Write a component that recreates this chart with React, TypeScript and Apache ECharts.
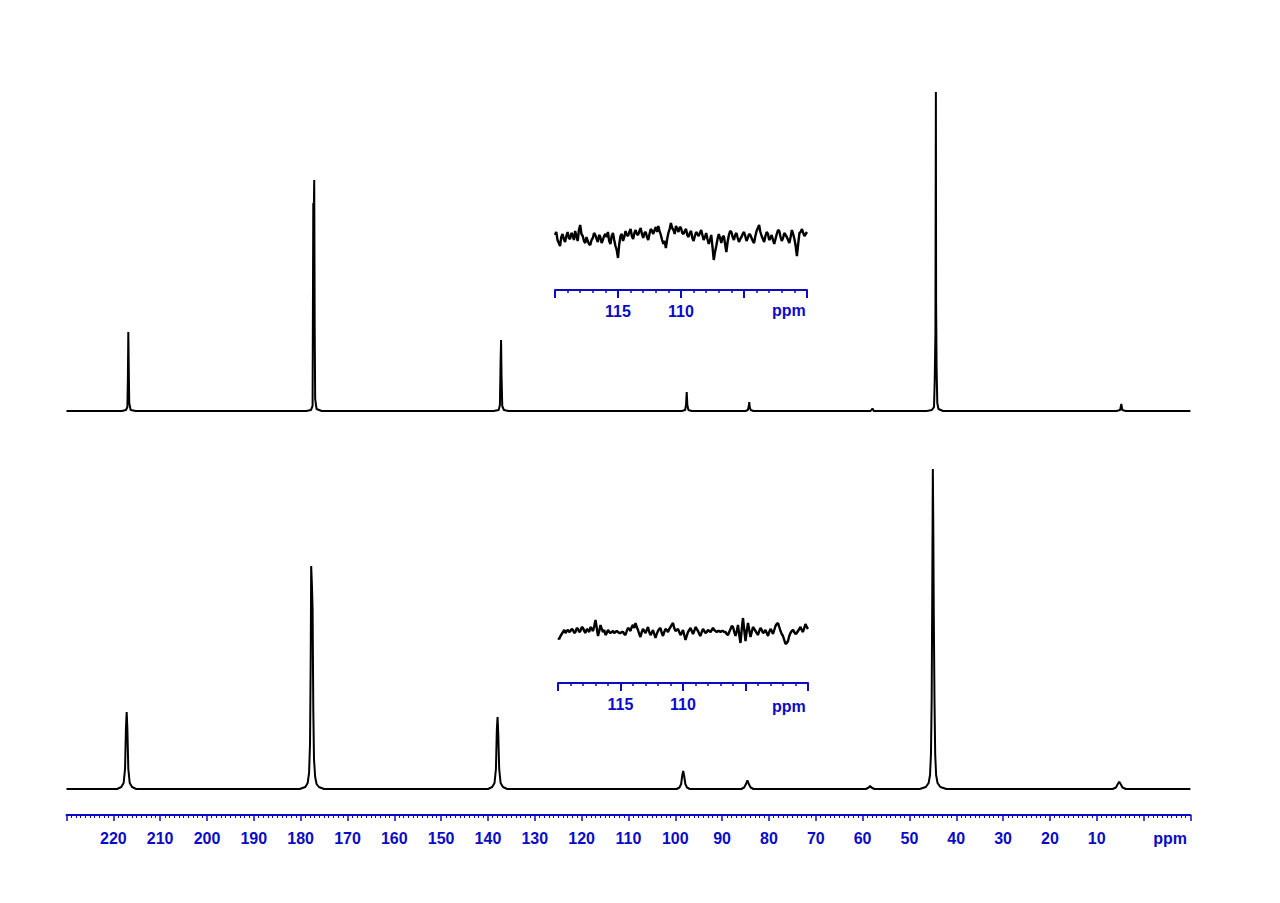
import React, { useEffect, useRef } from "react";
import * as echarts from "echarts";

// ---------- data ----------
const AXIS_MIN = -10;
const AXIS_MAX = 230;
const AXIS_INTERVAL = 10;
const hiddenMainLabels = [230, 0, -10];

const INSET_MIN = 100;
const INSET_MAX = 120;
const INSET_INTERVAL = 5;
const insetShownLabels = [115, 110];
const INSET_STEP = 0.1;

// upper spectrum: [ppm, intensity]
const topSpectrum: [number, number][] = [
  [230, 0],
  [218.2, 0], [217.3, 1], [217.0, 4], [216.9, 30], [216.8, 79], [216.7, 40], [216.6, 8], [216.3, 1], [215.2, 0],
  [178.8, 0], [177.8, 1], [177.45, 5], [177.3, 208], [177.2, 195], [177.1, 231], [177.0, 84], [176.9, 12], [176.6, 2], [175.5, 0],
  [138.8, 0], [137.7, 1], [137.45, 6], [137.3, 50], [137.2, 71], [137.1, 35], [136.95, 5], [136.6, 1], [135.6, 0],
  [98.6, 0], [97.9, 1], [97.7, 6], [97.56, 19], [97.42, 6], [97.2, 1], [96.5, 0],
  [85.0, 0], [84.5, 1], [84.3, 5], [84.2, 9], [84.1, 4], [83.9, 1], [83.3, 0],
  [58.3, 0], [57.9, 2.5], [57.6, 0],
  [46.3, 0], [45.2, 1], [44.75, 4], [44.6, 30], [44.45, 78], [44.35, 319], [44.3, 108], [44.2, 44], [44.05, 8], [43.8, 2], [42.8, 0],
  [5.8, 0], [5.0, 1], [4.75, 7], [4.55, 1], [3.8, 0],
  [-10, 0],
];

// lower spectrum: [ppm, intensity]
const bottomSpectrum: [number, number][] = [
  [230, 0],
  [219.2, 0], [218.3, 2], [217.8, 6], [217.5, 20], [217.3, 62], [217.15, 77], [217.0, 60], [216.8, 20], [216.5, 6], [216.0, 2], [215.1, 0],
  [180.2, 0], [179.0, 2], [178.5, 6], [178.2, 16], [178.0, 45], [177.85, 130], [177.75, 223], [177.6, 205], [177.45, 180], [177.3, 80], [177.15, 30], [176.9, 12], [176.6, 5], [176.1, 2], [175.0, 0],
  [140.0, 0], [139.1, 2], [138.6, 6], [138.3, 20], [138.1, 60], [137.95, 72], [137.8, 55], [137.6, 20], [137.3, 6], [136.8, 2], [135.9, 0],
  [99.7, 0], [99.1, 1.5], [98.75, 5], [98.5, 14], [98.3, 18], [98.1, 13], [97.85, 5], [97.5, 1.5], [96.9, 0],
  [85.9, 0], [85.3, 1.5], [84.9, 5], [84.6, 8.6], [84.3, 5], [83.9, 1.5], [83.3, 0],
  [59.3, 0], [58.7, 1.5], [58.4, 3], [58.1, 1.5], [57.5, 0],
  [47.8, 0], [46.5, 2], [45.9, 6], [45.6, 14], [45.4, 35], [45.25, 90], [45.12, 200], [45.0, 320], [44.9, 260], [44.8, 175], [44.65, 90], [44.5, 35], [44.3, 14], [44.0, 6], [43.4, 2], [42.1, 0],
  [6.6, 0], [5.9, 1.5], [5.5, 5], [5.2, 7.3], [4.9, 5], [4.5, 1.5], [3.8, 0],
  [-10, 0],
];

// inset traces, 120 -> 100 ppm in 0.1 ppm steps
const topInsetNoise = [
  3, 6, -2, -5, -8, 1, 4, -1, -4, 2,
  6, 0, -1, 5, 3, -2, 7, 2, -3, 8,
  13, 4, 2, -3, -5, 1, -3, -6, -7, -2,
  0, 5, 3, -1, -4, 3, 1, -5, -2, 2,
  4, 1, 6, -3, -6, 2, 5, -2, -8, -12,
  -20, -6, 2, 4, -3, 1, 7, 3, 2, 6,
  9, 2, -1, 5, 8, 4, 3, 7, 10, 4,
  0, 5, 6, 1, -2, 4, 9, 7, 4, 8,
  11, 6, 12, 7, 3, -2, -6, -3, -10, -1,
  5, 9, 15, 10, 8, 4, 12, 9, 6, 11,
  10, 5, 4, 7, 9, 3, 1, 5, 7, 0,
  -3, 2, 6, 4, 2, 5, 8, 3, -2, 1,
  5, -1, -6, -2, 3, -9, -22, -14, -8, -1,
  4, 0, -5, 1, 2, -6, -14, -4, 3, 7,
  6, 1, -2, 3, 5, 0, -4, -1, 1, 4,
  6, 2, -3, 0, 4, 3, 0, -3, -5, 2,
  7, 10, 13, 6, 2, -1, -4, 2, 6, 4,
  -2, 0, 3, -2, -6, -1, 4, 8, 7, 1,
  -3, 0, 5, 3, 1, -2, -5, 1, 8, 4,
  -1, -8, -18, -6, 5, 6, 9, 5, 2, 4,
  6,
];

const bottomInsetNoise = [
  -5, -6, -3, -1, 1, 3, 0, 2, 3, 1,
  2, 4, 3, 0, 1, 5, 4, 1, 2, 6,
  5, 2, 0, 4, 3, 1, 6, 4, 2, 7,
  13, 5, -3, 2, 8, 4, 1, 3, -2, 0,
  3, 1, 0, 1, 2, 0, 1, 2, 1, 0,
  0, 1, 1, -1, -2, 2, 5, 4, 2, 6,
  8, 5, 10, 6, 3, -1, -4, 1, 4, 2,
  0, 3, 6, 1, -2, 0, 3, -1, -5, -1,
  2, 4, 5, 0, -3, 1, 4, 3, 1, 4,
  6, 8, 10, 5, 2, 3, 4, 1, -2, 0,
  3, -2, -7, -3, 1, 3, 5, 2, -1, 2,
  6, 4, 2, -1, -3, 1, 4, 2, 0, 1,
  3, 2, 1, 3, 5, 3, 2, 1, 2, 2,
  1, 2, 2, 1, 1, -1, -2, 1, 4, 7,
  6, 1, -3, 2, 8, -2, -10, 4, 15, 3,
  -8, 2, 10, 3, -4, 1, 6, 4, 2, 0,
  -2, 2, 5, 3, 0, 1, 3, 0, -3, 1,
  4, 2, -1, 3, 7, 9, 10, 6, 2, -1,
  -3, -7, -11, -10, -8, -3, 0, 2, 3, 1,
  -1, 0, 2, 4, 6, 3, 1, 5, 9, 6,
  4,
];

// ---------- styles ----------
const BLUE = "#0a0ac8";
const FONT = "'Liberation Sans', Arial, sans-serif";

const toInset = (vals: number[]) =>
  vals.map((v, i) => [INSET_MAX - i * INSET_STEP, v]);

export default function App() {
  const ref = useRef<HTMLDivElement>(null);

  useEffect(() => {
    if (!ref.current) return;
    const chart = echarts.init(ref.current, undefined, { renderer: "svg" });

    const mainLabel = {
      show: true,
      color: BLUE,
      fontFamily: FONT,
      fontWeight: "bold" as const,
      fontSize: 16,
      margin: 15,
    };

    const insetAxis = (gridIndex: number) => ({
      type: "value",
      gridIndex,
      inverse: true,
      min: INSET_MIN,
      max: INSET_MAX,
      interval: INSET_INTERVAL,
      axisLine: { show: true, onZero: false, lineStyle: { color: BLUE, width: 2 } },
      axisTick: { show: true, length: 8, lineStyle: { color: BLUE, width: 2 } },
      minorTick: { show: true, splitNumber: 5, length: 3, lineStyle: { color: BLUE, width: 1.5 } },
      splitLine: { show: false },
      minorSplitLine: { show: false },
      axisLabel: {
        ...mainLabel,
        margin: 13,
        formatter: (v: number) => (insetShownLabels.includes(v) ? String(v) : ""),
      },
    });

    const option: any = {
      animation: false,
      backgroundColor: "#ffffff",
      grid: [
        { left: 66.5, right: 89.6, top: 91, height: 346 },
        { left: 66.5, right: 89.6, top: 469, height: 346 },
        { left: 555, width: 252, top: 213, height: 77 },
        { left: 558, width: 250, top: 608, height: 75 },
      ],
      xAxis: [
        {
          type: "value",
          gridIndex: 0,
          inverse: true,
          min: AXIS_MIN,
          max: AXIS_MAX,
          show: false,
        },
        {
          type: "value",
          gridIndex: 1,
          inverse: true,
          min: AXIS_MIN,
          max: AXIS_MAX,
          interval: AXIS_INTERVAL,
          axisLine: { show: true, onZero: false, lineStyle: { color: BLUE, width: 2 } },
          axisTick: { show: true, length: 6, lineStyle: { color: BLUE, width: 1.5 } },
          minorTick: { show: true, splitNumber: 10, length: 3, lineStyle: { color: BLUE, width: 1 } },
          splitLine: { show: false },
          minorSplitLine: { show: false },
          axisLabel: {
            ...mainLabel,
            formatter: (v: number) => (hiddenMainLabels.includes(v) ? "" : String(v)),
          },
        },
        insetAxis(2),
        insetAxis(3),
      ],
      yAxis: [
        { type: "value", gridIndex: 0, min: -26, max: 320, show: false },
        { type: "value", gridIndex: 1, min: -26, max: 320, show: false },
        { type: "value", gridIndex: 2, min: -52, max: 25, show: false },
        { type: "value", gridIndex: 3, min: -50, max: 25, show: false },
      ],
      series: [
        {
          type: "line",
          xAxisIndex: 0,
          yAxisIndex: 0,
          data: topSpectrum,
          showSymbol: false,
          lineStyle: { color: "#000", width: 2 },
          clip: false,
        },
        {
          type: "line",
          xAxisIndex: 1,
          yAxisIndex: 1,
          data: bottomSpectrum,
          showSymbol: false,
          lineStyle: { color: "#000", width: 2 },
          clip: false,
        },
        {
          type: "line",
          xAxisIndex: 2,
          yAxisIndex: 2,
          data: toInset(topInsetNoise),
          showSymbol: false,
          lineStyle: { color: "#000", width: 2.4 },
          clip: false,
        },
        {
          type: "line",
          xAxisIndex: 3,
          yAxisIndex: 3,
          data: toInset(bottomInsetNoise),
          showSymbol: false,
          lineStyle: { color: "#000", width: 2.4 },
          clip: false,
        },
      ],
      graphic: [
        {
          type: "text",
          right: 93,
          top: 830,
          style: { text: "ppm", fill: BLUE, font: `bold 16px ${FONT}` },
        },
        {
          type: "text",
          left: 772,
          top: 302,
          style: { text: "ppm", fill: BLUE, font: `bold 16px ${FONT}` },
        },
        {
          type: "text",
          left: 772,
          top: 698,
          style: { text: "ppm", fill: BLUE, font: `bold 16px ${FONT}` },
        },
      ],
    };

    chart.setOption(option);
    return () => chart.dispose();
  }, []);

  return (
    <div
      ref={ref}
      style={{ position: "fixed", left: 0, top: 0, width: 1280, height: 903, background: "#fff" }}
    />
  );
}
